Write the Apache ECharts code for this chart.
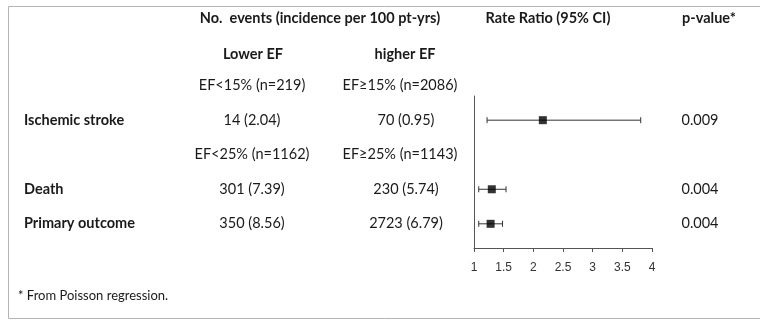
<!DOCTYPE html>
<html>
<head>
<meta charset="utf-8">
<script src="https://cdn.jsdelivr.net/npm/echarts@6/dist/echarts.min.js"></script>
<style>html,body{margin:0;padding:0;background:#fff}#c{width:760px;height:320px}</style>
</head>
<body>
<div id="c"></div>
<script>
// ---- data ----
const rowNames = ['Ischemic stroke', 'Death', 'Primary outcome'];
const rowIndex = [0, 2, 3];
const lowerEF = ['14 (2.04)', '301 (7.39)', '350 (8.56)'];
const higherEF = ['70 (0.95)', '230 (5.74)', '2723 (6.79)'];
const rateRatio = [2.16, 1.30, 1.28];
const ciLow = [1.22, 1.08, 1.08];
const ciHigh = [3.81, 1.54, 1.48];
const pValues = ['0.009', '0.004', '0.004'];
const subgroupIndex = [-1, 1];
const subgroupLower = ['EF<15% (n=219)', 'EF<25% (n=1162)'];
const subgroupHigher = ['EF≥15% (n=2086)', 'EF≥25% (n=1143)'];
const headerMain = 'No.  events (incidence per 100 pt-yrs)';
const headerRR = 'Rate Ratio (95% CI)';
const headerP = 'p-value*';
const headerLower = 'Lower EF';
const headerHigher = 'higher EF';
const footnote = '* From Poisson regression.';
const xMin = 1, xMax = 4, xStep = 0.5;

// ---- chart ----
const chart = echarts.init(document.getElementById('c'));
const FONT = 'Lato';
const TXT = '#1a1a1a';
const FS = 14.5;

const ciData = rowIndex.map((r, i) => [ciLow[i], ciHigh[i], r]);
const ptData = rowIndex.map((r, i) => [rateRatio[i], r]);

chart.setOption({
  animation: false,
  grid: { left: 474, right: 108, top: 96, bottom: 72 },
  xAxis: {
    type: 'value', min: xMin, max: xMax, interval: xStep,
    axisLine: { show: true, onZero: false, lineStyle: { color: '#555', width: 1 } },
    axisTick: { show: true, length: 4, lineStyle: { color: '#555' } },
    axisLabel: { fontFamily: 'Liberation Sans', fontSize: 12, color: '#333', margin: 14 },
    splitLine: { show: false }
  },
  yAxis: {
    type: 'value', inverse: true, min: -0.7, max: 3.7,
    axisLine: { show: true, onZero: false, lineStyle: { color: '#555', width: 1 } },
    axisTick: { show: false }, axisLabel: { show: false }, splitLine: { show: false }
  },
  series: [
    {
      type: 'custom',
      data: ciData,
      encode: { x: [0, 1], y: 2 },
      renderItem: function (params, api) {
        const y = api.value(2);
        const a = api.coord([api.value(0), y]);
        const b = api.coord([api.value(1), y]);
        const cap = 3;
        const st = { stroke: '#333', lineWidth: 1 };
        return {
          type: 'group', children: [
            { type: 'line', shape: { x1: a[0], y1: a[1], x2: b[0], y2: b[1] }, style: st },
            { type: 'line', shape: { x1: a[0], y1: a[1] - cap, x2: a[0], y2: a[1] + cap }, style: st },
            { type: 'line', shape: { x1: b[0], y1: b[1] - cap, x2: b[0], y2: b[1] + cap }, style: st }
          ]
        };
      },
      z: 2
    },
    {
      type: 'scatter', data: ptData, symbol: 'rect', symbolSize: 8,
      itemStyle: { color: '#000' }, z: 3
    }
  ]
});

function yOf(v) { return chart.convertToPixel({ gridIndex: 0 }, [xMin, v])[1]; }
function t(text, x, y, align, bold, size) {
  return {
    type: 'text', x: x, y: y,
    style: { text: text, fontFamily: FONT, fontSize: size || FS, fontWeight: bold ? 'bold' : 'normal',
      fill: TXT, textAlign: align, textVerticalAlign: 'middle' }
  };
}
const els = [];
els.push({ type: 'polyline', shape: { points: [[800, 6.5], [8.5, 6.5], [8.5, 318.5], [800, 318.5]] },
  style: { stroke: '#b4b4b4', lineWidth: 1, fill: null } });
els.push(t(headerMain, 320, 18, 'center', true));
els.push(t(headerRR, 548, 18, 'center', true));
els.push(t(headerP, 709, 18, 'center', true));
els.push(t(headerLower, 253, 54, 'center', true));
els.push(t(headerHigher, 405, 54, 'center', true));
subgroupIndex.forEach((r, i) => {
  const y = yOf(r);
  els.push(t(subgroupLower[i], 252, y, 'center', false));
  els.push(t(subgroupHigher[i], 400, y, 'center', false));
});
rowIndex.forEach((r, i) => {
  const y = yOf(r);
  els.push(t(rowNames[i], 24, y, 'left', true));
  els.push(t(lowerEF[i], 252, y, 'center', false));
  els.push(t(higherEF[i], 406, y, 'center', false));
  els.push(t(pValues[i], 700, y, 'center', false));
});
els.push(t(footnote, 18, 296, 'left', false, 13));
chart.setOption({ graphic: { elements: els } });
</script>
</body>
</html>
